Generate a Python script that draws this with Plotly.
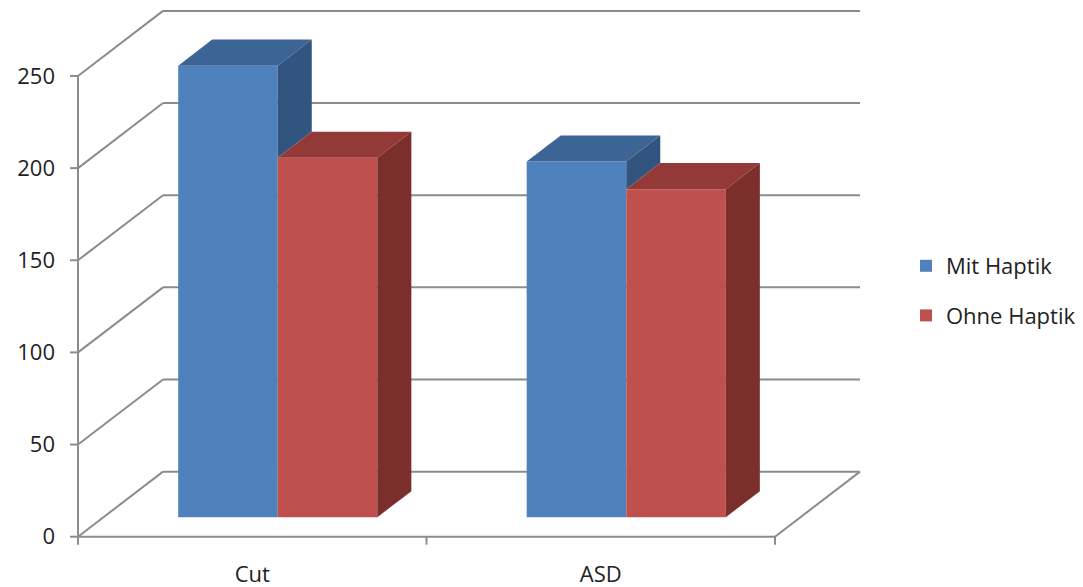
import plotly.graph_objects as go

# ---- data ----
categories = ["Cut", "ASD"]
series_names = ["Mit Haptik", "Ohne Haptik"]
mit_haptik = [245, 193]
ohne_haptik = [195, 178]
y_ticks = [0, 50, 100, 150, 200, 250]

# ---- styling / 3D geometry (in axis units) ----
front_colors = ["#4F81BD", "#C0504D"]
top_colors = ["#3C6494", "#933A38"]
side_colors = ["#32557F", "#7A2F2D"]
grid_color = "#8C8C8C"
FONT = "Open Sans"

DX, DY = 0.244, 35.3          # full depth offset of the 3D box
F0, F1 = 0.30, 0.70           # bar depth (fraction of box depth)
BAR_W = 1 / 3.5               # gap width 150%
fx0, fy0 = DX * F0, DY * F0
ddx, ddy = DX * (F1 - F0), DY * (F1 - F0)
n_cat = len(categories)

W, H = 1083, 587
ml, mr, mt, mb = 68, 213, 5, 40
px_per_cat = 348.5
px_per_val = 1.843
origin_px = (78, 536.7)
TICK_X = 8 / px_per_cat
TICK_Y = 8 / px_per_val

fig = go.Figure()
values = [mit_haptik, ohne_haptik]

# front faces as real bars
for i, (name, vals) in enumerate(zip(series_names, values)):
    xs = [j + (1 - 2 * BAR_W) / 2 + i * BAR_W + BAR_W / 2 + fx0 for j in range(n_cat)]
    fig.add_trace(go.Bar(
        x=xs, y=vals, base=fy0, width=BAR_W, name=name,
        marker=dict(color=front_colors[i], line=dict(width=0)),
        legendgroup=name, customdata=categories,
        hovertemplate="%{customdata}: %{y}<extra>" + name + "</extra>",
    ))

# top and side faces
for j in range(n_cat):
    for i, vals in enumerate(values):
        v = vals[j]
        L = j + (1 - 2 * BAR_W) / 2 + i * BAR_W + fx0
        R = L + BAR_W
        tx = [L, R, R + ddx, L + ddx, L]
        ty = [fy0 + v, fy0 + v, fy0 + ddy + v, fy0 + ddy + v, fy0 + v]
        fig.add_trace(go.Scatter(x=tx, y=ty, fill="toself", mode="lines",
                                 line=dict(width=0, color=top_colors[i]),
                                 fillcolor=top_colors[i], showlegend=False,
                                 hoverinfo="skip"))
        b = values[i + 1][j] if i + 1 < len(values) else 0
        if b < v:
            sx = [R, R, R + ddx, R + ddx, R]
            sy = [fy0 + b, fy0 + v, fy0 + ddy + v, fy0 + ddy + b, fy0 + b]
            fig.add_trace(go.Scatter(x=sx, y=sy, fill="toself", mode="lines",
                                     line=dict(width=0, color=side_colors[i]),
                                     fillcolor=side_colors[i], showlegend=False,
                                     hoverinfo="skip"))

# walls / gridlines / axes (below bars)
line = dict(color=grid_color, width=2)
shapes = []
for v in y_ticks:
    shapes.append(dict(type="line", xref="x", yref="y", x0=0, y0=v, x1=DX, y1=v + DY,
                       line=line, layer="below"))
    shapes.append(dict(type="line", xref="x", yref="y", x0=DX, y0=v + DY, x1=n_cat + DX, y1=v + DY,
                       line=line, layer="below"))
    shapes.append(dict(type="line", xref="x", yref="y", x0=-TICK_X, y0=v, x1=0, y1=v,
                       line=line, layer="below"))
shapes.append(dict(type="line", xref="x", yref="y", x0=n_cat, y0=0, x1=n_cat + DX, y1=DY,
                   line=line, layer="below"))
shapes.append(dict(type="line", xref="x", yref="y", x0=0, y0=0, x1=n_cat, y1=0,
                   line=line, layer="below"))
shapes.append(dict(type="line", xref="x", yref="y", x0=0, y0=0, x1=0, y1=max(y_ticks),
                   line=line, layer="below"))
for j in range(n_cat + 1):
    shapes.append(dict(type="line", xref="x", yref="y", x0=j, y0=0, x1=j, y1=-TICK_Y,
                       line=line, layer="below"))

x_range = [(ml - origin_px[0]) / px_per_cat, (W - mr - origin_px[0]) / px_per_cat]
y_range = [(origin_px[1] - (H - mb)) / px_per_val, (origin_px[1] - mt) / px_per_val]

fig.update_layout(
    width=W, height=H,
    margin=dict(l=ml, r=mr, t=mt, b=mb, pad=0),
    paper_bgcolor="white", plot_bgcolor="rgba(0,0,0,0)",
    barmode="overlay",
    shapes=shapes,
    font=dict(family=FONT, size=22, color="#222222"),
    showlegend=True,
    legend=dict(xref="container", yref="container",
                x=906 / W, y=1 - 245 / H, xanchor="left", yanchor="top",
                font=dict(family=FONT, size=22, color="#222222"),
                bgcolor="rgba(0,0,0,0)", tracegroupgap=18,
                itemclick=False, itemdoubleclick=False),
    xaxis=dict(range=x_range, showgrid=False, zeroline=False, showline=False,
               automargin=False,
               tickvals=[j + 0.5 for j in range(n_cat)], ticktext=categories,
               ticks="", ticklabelstandoff=12, fixedrange=True),
    yaxis=dict(range=y_range, showgrid=False, zeroline=False, showline=False,
               automargin=False,
               tickvals=y_ticks, ticks="", ticklabelstandoff=12, fixedrange=True),
)

fig.write_html("out.html")
